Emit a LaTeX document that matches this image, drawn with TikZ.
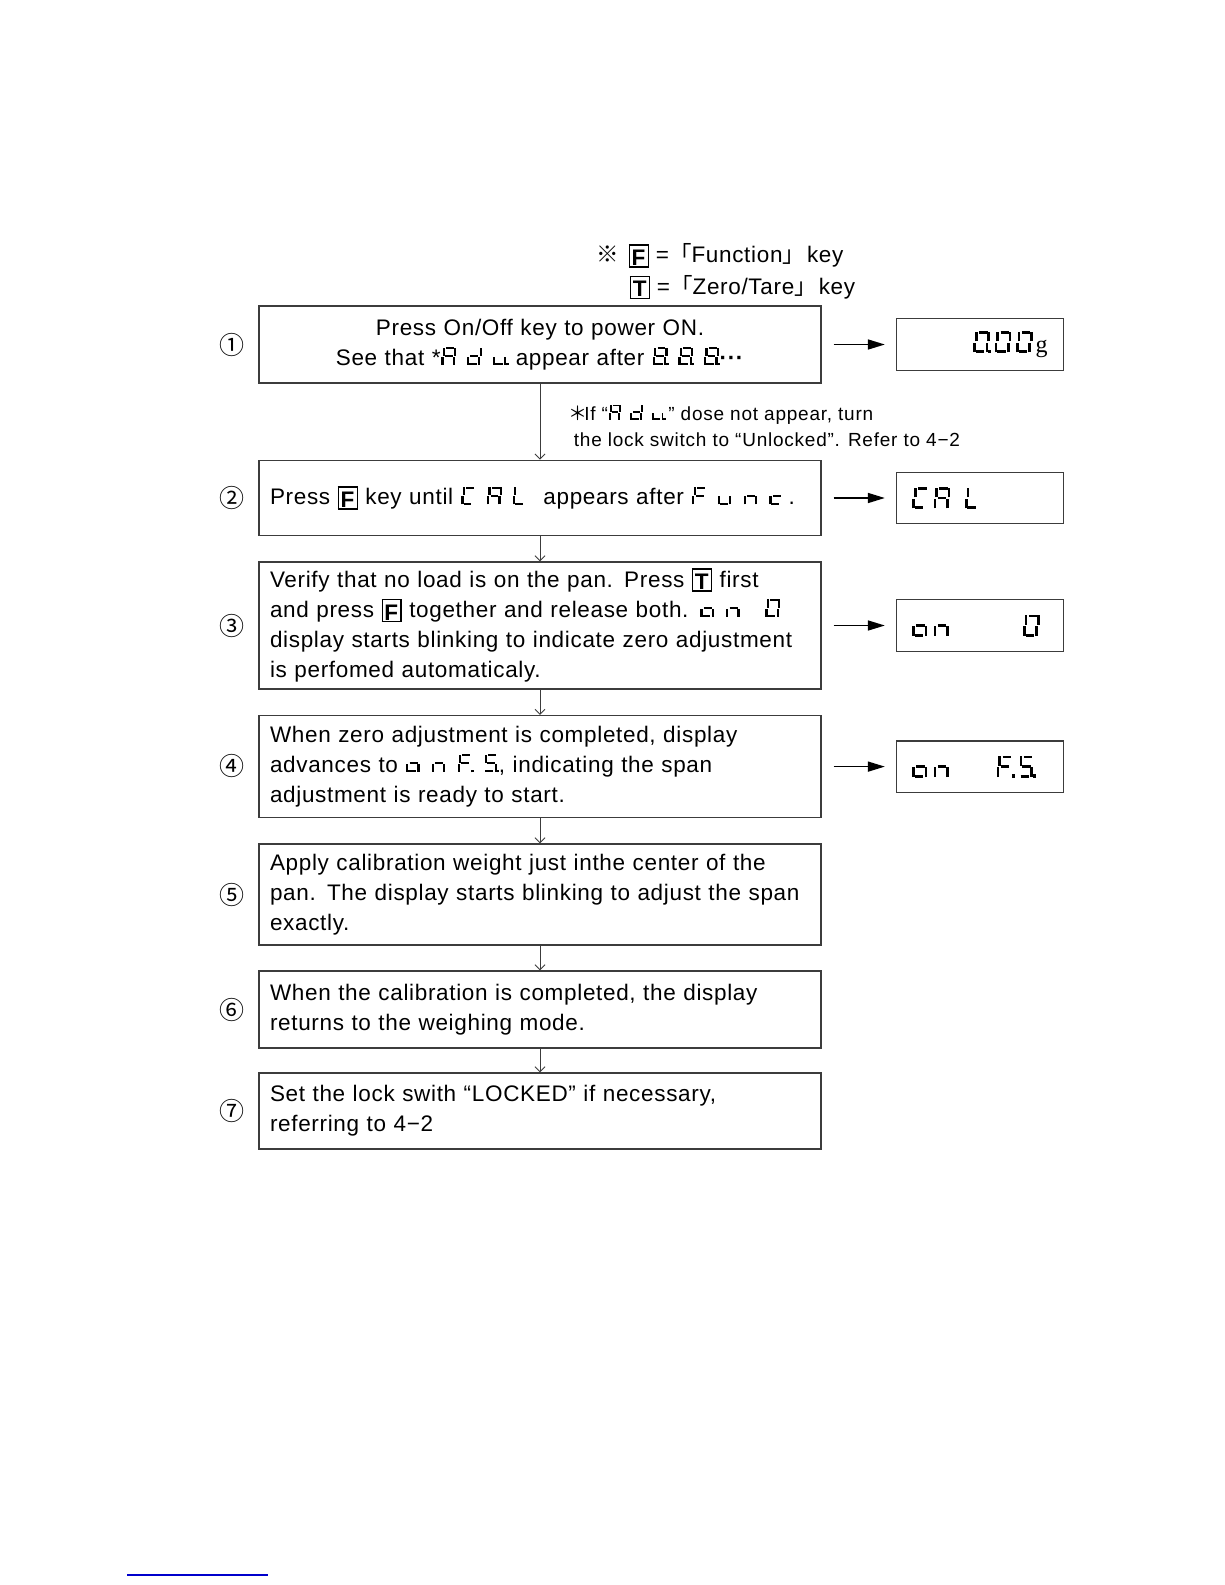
\documentclass[tikz,border=0pt]{standalone}
\usepackage{fontspec}
\setmainfont{Liberation Sans}[LetterSpace=3]
\newfontfamily\cjk{Noto Sans CJK JP}
\newfontfamily\notefont{Liberation Sans}[LetterSpace=4]
\newfontfamily\seriffont{Liberation Serif}
\usetikzlibrary{arrows.meta}
\definecolor{linkblue}{RGB}{0,0,204}
\definecolor{boxgray}{RGB}{60,60,60}
% seven-segment characters built from rules
\newdimen\sW \newdimen\sH \newdimen\sT \newdimen\sG \newdimen\sO \newdimen\sK
\newcommand\segT{\sW=0.6em \sH=0.82em \sT=0.1em \sG=0.025em \sO=0.15\sH \sK=0.42em}
\newcommand\segD{\sW=15pt \sH=22pt \sT=2.7pt \sG=0.6pt \sO=0.15\sH \sK=3pt}
\makeatletter
\newcommand\sgbar[4]{\rlap{\kern\dimexpr#1\relax\raise\dimexpr#2\relax\hbox{\vrule width\dimexpr#3\relax height\dimexpr#4\relax depth\z@}}}
\newcommand\sgch[1]{\hbox to\dimexpr\sW+\sO\relax{%
 \in@{a}{#1}\ifin@\sgbar{\sT+\sG+\sO}{\sH-\sT}{\sW-2\sT-2\sG}{\sT}\fi
 \in@{b}{#1}\ifin@\sgbar{\sW-\sT+0.75\sO}{\sH/2+\sG}{\sT}{\sH/2-2\sG}\fi
 \in@{c}{#1}\ifin@\sgbar{\sW-\sT+0.25\sO}{\sG}{\sT}{\sH/2-2\sG}\fi
 \in@{d}{#1}\ifin@\sgbar{\sT+\sG}{\z@}{\sW-2\sT-2\sG}{\sT}\fi
 \in@{e}{#1}\ifin@\sgbar{0.25\sO}{\sG}{\sT}{\sH/2-2\sG}\fi
 \in@{f}{#1}\ifin@\sgbar{0.75\sO}{\sH/2+\sG}{\sT}{\sH/2-2\sG}\fi
 \in@{g}{#1}\ifin@\sgbar{\sT+\sG+0.5\sO}{\sH/2-\sT/2}{\sW-2\sT-2\sG}{\sT}\fi
 \in@{p}{#1}\ifin@\sgbar{\sW+\sG}{\z@}{1.2\sT}{1.2\sT}\fi
 \hss}}
\makeatother
\newcommand\sg[1]{\sgch{#1}\kern\sK}
\newcommand\Adj{\sg{abcefg}\sg{bcdeg}\sg{cdep}\unkern}
\newcommand\Eights{\sg{abcdefgp}\sg{abcdefgp}\sg{abcdefgp}\unkern}
\newcommand\CAL{\sg{adef}\sg{abcefg}\sg{def}\unkern}
\newcommand\Func{\sg{aefg}\sg{cde}\sg{ceg}\sg{deg}\unkern}
\newcommand\onz{\sg{cdeg}\sg{ceg}\kern0.6em\sg{abcdef}\unkern}
\newcommand\onFS{\sg{cdeg}\sg{ceg}\sg{aefgp}\sg{acdfgp}\unkern}
\newcommand\kbox[1]{\raisebox{-0.12em}{\setlength\fboxsep{0pt}\setlength\fboxrule{1.3pt}\fbox{\makebox[0.78em]{\rule[-0.03em]{0pt}{0.92em}\textbf{#1}}}}}
\tikzset{
  bodyfont/.style={font=\fontsize{22.5}{30.3}\selectfont\segT},
  stepbox/.style={draw=boxgray, line width=1.4pt, minimum width=562pt, text width=540pt,
    inner xsep=11pt, inner ysep=2pt, align=left, bodyfont},
  dispbox/.style={draw=boxgray, line width=1.3pt, minimum width=167pt, minimum height=51.5pt,
    inner xsep=15pt, inner ysep=0pt, font=\segD},
  circnum/.style={font=\cjk\fontsize{25}{25}\selectfont, inner sep=0pt},
  vconn/.style={draw=boxgray, line width=0.9pt, -{Straight Barb[length=5pt,width=10pt]}},
  harrow/.style={draw=black, line width=1.6pt, -{Triangle[length=17pt,width=10pt]},
    shorten <=12pt, shorten >=11pt},
  notetext/.style={inner sep=0pt, anchor=west, align=left}
}
\begin{document}
\begin{tikzpicture}[x=1pt,y=-1pt]
\useasboundingbox[fill=white] (0,0) rectangle (1225,1585);

% key legend
\node[notetext, bodyfont] (n1) at (596,255.7)
  {{\cjk ※}\hspace{0.45em}\kbox{F} ={\cjk 「}Function{\cjk 」}\kern2pt key};
\node[notetext, bodyfont] (n2) at (629.7,287)
  {\kbox{T} ={\cjk 「}Zero/Tare{\cjk 」}\kern2pt key};

% step boxes
\node[stepbox, align=center, minimum height=77pt] (b1) at (540,344.5)
  {Press On/Off key to power ON.\\ See that *\Adj\ appear after \Eights\textbf{···}};
\node[stepbox, minimum height=75.5pt] (b2) at (540,498)
  {Press \kbox{F} key until \CAL\ \ appears after \Func\,.};
\node[stepbox, minimum height=127pt] (b3) at (540,625.5)
  {Verify that no load is on the pan. Press \kbox{T} first\\
   and press \kbox{F} together and release both. \onz\\
   display starts blinking to indicate zero adjustment\\
   is perfomed automaticaly.};
\node[stepbox, minimum height=102pt] (b4) at (540,766.6)
  {When zero adjustment is completed, display\\
   advances to \onFS, indicating the span\\
   adjustment is ready to start.};
\node[stepbox, minimum height=101pt] (b5) at (540,894.5)
  {Apply calibration weight just inthe center of the\\
   pan. The display starts blinking to adjust the span\\
   exactly.};
\node[stepbox, minimum height=77pt] (b6) at (540,1009.5)
  {When the calibration is completed, the display\\
   returns to the weighing mode.};
\node[stepbox, minimum height=76pt] (b7) at (540,1111)
  {Set the lock swith “LOCKED” if necessary,\\
   referring to 4−2};

% circled numbers
\node[circnum] (c1) at (231.5,344.5) {①};
\node[circnum] (c2) at (231.5,498.3) {②};
\node[circnum] (c3) at (231.5,625.6) {③};
\node[circnum] (c4) at (231.5,766) {④};
\node[circnum] (c5) at (231.5,894.5) {⑤};
\node[circnum] (c6) at (231.5,1009.7) {⑥};
\node[circnum] (c7) at (231.5,1110.8) {⑦};

% note between steps 1 and 2
\node[notetext, font=\notefont\fontsize{19}{26.2}\selectfont\segT] (n3) at (568,425.5)
  {{\cjk ＊}\kern-0.15em If “\Adj\,” dose not appear, turn\\
   \hspace*{0.3em}the lock switch to “Unlocked”. Refer to 4−2};

% displays
\node[dispbox] (d1) at (980,344.5)
  {\hbox to 137pt{\hfill\sg{abcdefp}\sg{abcdef}\sg{abcdef}\kern-1pt{\seriffont\fontsize{24}{24}\selectfont g}\kern1pt}};
\node[dispbox] (d2) at (980,498)
  {\hbox to 137pt{\sg{adef}\sg{abcefg}\kern10pt\sg{def}\hfill}};
\node[dispbox] (d3) at (980,625.5)
  {\hbox to 137pt{\sg{cdeg}\sg{ceg}\hfill\sg{abcdef}\kern5pt}};
\node[dispbox] (d4) at (980,766.6)
  {\hbox to 137pt{\sg{cdeg}\sg{ceg}\hfill\sg{aefgp}\sg{acdfgp}\kern10pt}};

% connectors
\draw[vconn] (b1.south) -- (b2.north);
\draw[vconn] (b2.south) -- (b3.north);
\draw[vconn] (b3.south) -- (b4.north);
\draw[vconn] (b4.south) -- (b5.north);
\draw[vconn] (b5.south) -- (b6.north);
\draw[vconn] (b6.south) -- (b7.north);
\draw[harrow] (b1) -- (d1);
\draw[harrow] (b2) -- (d2);
\draw[harrow] (b3) -- (d3);
\draw[harrow] (b4) -- (d4);

% link underline at the bottom
\draw[linkblue, line width=1.5pt] (127,1575) -- (268,1575);
\end{tikzpicture}
\end{document}
